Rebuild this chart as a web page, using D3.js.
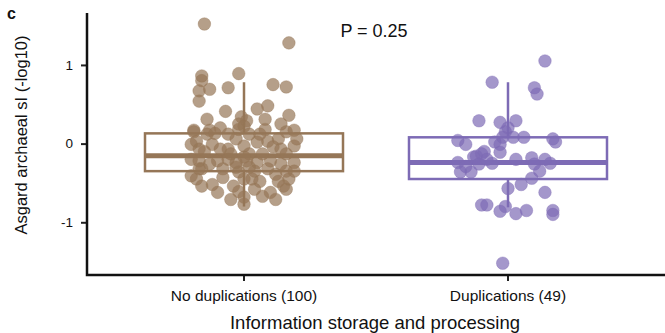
<!DOCTYPE html>
<html>
<head>
<meta charset="utf-8">
<script src="https://cdn.jsdelivr.net/npm/d3@7"></script>
<style>
  body { margin: 0; background: #fff; }
  svg text { font-family: "Liberation Sans", Arial, Helvetica, sans-serif; }
</style>
</head>
<body>
<div id="chart"></div>
<script>
// groups on the x axis
const groups = ['No duplications (100)', 'Duplications (49)'];
const colors = ['#957657', '#7d6bb5'];
const yTicks = [-1, 0, 1];

// box stats per group (-log10 sI)
const q1 = [-0.35, -0.45];
const median = [-0.155, -0.24];
const q3 = [0.13, 0.08];
const whiskerLow = [-0.80, -0.81];
const whiskerHigh = [0.78, 0.78];

// points: [jitter (fraction of band step), value]
const noDupPoints = [
  [-0.15, 1.52], [0.17, 1.28], [-0.16, 0.86], [-0.16, 0.80], [-0.17, 0.67],
  [-0.13, 0.69], [-0.17, 0.54], [-0.06, 0.71], [-0.02, 0.89], [0.11, 0.75],
  [0.16, 0.72], [0.05, 0.44], [0.09, 0.48], [0.17, 0.36], [-0.01, 0.34],
  [0.01, 0.29], [-0.02, 0.25], [0.00, 0.22], [-0.19, 0.17], [-0.13, 0.17],
  [-0.09, 0.20], [-0.02, 0.18], [-0.19, 0.15], [-0.14, 0.12], [-0.11, 0.13],
  [0.16, 0.15], [0.19, 0.17], [-0.06, -0.07], [0.00, -0.03], [0.05, 0.02],
  [0.09, 0.03], [0.13, 0.06], [0.19, -0.03], [-0.18, 0.03], [-0.15, -0.10],
  [-0.20, -0.20], [-0.17, -0.22], [-0.10, -0.22], [-0.06, -0.20], [-0.03, -0.24],
  [0.01, -0.22], [0.05, -0.24], [0.10, -0.22], [0.14, -0.26], [0.19, -0.24],
  [-0.08, -0.32], [-0.02, -0.36], [0.04, -0.35], [0.09, -0.32], [0.16, -0.35],
  [0.19, -0.35], [-0.20, -0.41], [-0.18, -0.45], [-0.16, -0.54], [-0.08, -0.43],
  [-0.04, -0.54], [0.00, -0.45], [0.06, -0.48], [0.13, -0.48], [0.15, -0.54],
  [0.16, -0.58], [-0.05, -0.71], [0.00, -0.68], [0.07, -0.67], [0.10, -0.62],
  [0.12, -0.71], [0.00, -0.77], [-0.10, -0.62], [-0.13, -0.26], [0.02, -0.13],
  [0.07, -0.13], [0.16, -0.13], [-0.17, -0.07], [-0.12, -0.01], [-0.03, 0.06],
  [0.02, 0.12], [0.08, 0.18], [0.14, 0.25], [0.11, -0.04], [-0.05, -0.13],
  [-0.09, -0.07], [-0.16, -0.32], [0.02, -0.30], [0.12, -0.39], [-0.12, -0.52],
  [0.04, -0.58], [-0.02, -0.61], [0.20, 0.06], [-0.20, -0.01], [0.17, -0.45],
  [0.06, 0.12], [-0.06, 0.12], [0.00, -0.17], [0.14, -0.07], [-0.14, 0.31],
  [-0.07, 0.41], [0.08, 0.31], [-0.17, -0.32], [0.03, -0.45], [-0.03, -0.30]
];
const dupPoints = [
  [0.14, 1.05], [-0.06, 0.78], [0.10, 0.71], [0.11, 0.63], [-0.11, 0.29],
  [-0.03, 0.27], [0.03, 0.29], [0.00, 0.20], [-0.01, 0.15], [-0.19, 0.04],
  [-0.16, -0.01], [-0.02, 0.08], [0.02, 0.08], [0.06, 0.08], [0.17, 0.06],
  [0.18, 0.02], [-0.03, -0.01], [-0.09, -0.10], [-0.12, -0.16], [-0.19, -0.24],
  [-0.18, -0.36], [-0.14, -0.36], [-0.13, -0.17], [-0.10, -0.13], [-0.11, -0.26],
  [-0.06, -0.25], [-0.03, -0.11], [0.09, -0.18], [0.10, -0.26], [0.12, -0.35],
  [0.16, -0.25], [0.09, -0.44], [0.05, -0.52], [0.00, -0.57], [0.14, -0.62],
  [-0.10, -0.78], [-0.08, -0.78], [-0.01, -0.80], [-0.03, -0.86], [0.03, -0.89],
  [0.07, -0.85], [0.17, -0.85], [0.17, -0.90], [-0.02, -1.52], [-0.08, -0.20],
  [-0.16, -0.29], [0.14, -0.20], [-0.05, 0.02], [0.03, -0.20]
];
const pointSets = [noDupPoints, dupPoints];

const W = 665, H = 333;
const svg = d3.select('#chart').append('svg')
  .attr('width', W)
  .attr('height', H);

const x = d3.scaleBand()
  .domain(groups)
  .range([112, 640])
  .padding(0);

const y = d3.scaleLinear()
  .domain([-1.67, 1.66])
  .range([275, 13]);

const boxW = x.bandwidth() * 0.75;
const center = i => x(groups[i]) + x.bandwidth() / 2;

// boxes
groups.forEach((g, i) => {
  const cx = center(i);
  const c = colors[i];
  const gBox = svg.append('g');
  gBox.append('line')
    .attr('x1', cx).attr('x2', cx)
    .attr('y1', y(q3[i])).attr('y2', y(whiskerHigh[i]))
    .attr('stroke', c).attr('stroke-width', 2.5);
  gBox.append('line')
    .attr('x1', cx).attr('x2', cx)
    .attr('y1', y(q1[i])).attr('y2', y(whiskerLow[i]))
    .attr('stroke', c).attr('stroke-width', 2.5);
  gBox.append('rect')
    .attr('x', cx - boxW / 2)
    .attr('y', y(q3[i]))
    .attr('width', boxW)
    .attr('height', y(q1[i]) - y(q3[i]))
    .attr('fill', 'none')
    .attr('stroke', c)
    .attr('stroke-width', 2.5);
  gBox.append('line')
    .attr('x1', cx - boxW / 2).attr('x2', cx + boxW / 2)
    .attr('y1', y(median[i])).attr('y2', y(median[i]))
    .attr('stroke', c).attr('stroke-width', 5);
});

// jittered points
pointSets.forEach((pts, i) => {
  svg.append('g').selectAll('circle')
    .data(pts)
    .enter().append('circle')
    .attr('cx', d => center(i) + d[0] * x.step())
    .attr('cy', d => y(d[1]))
    .attr('r', 6.3)
    .attr('fill', colors[i])
    .attr('fill-opacity', 0.7)
    .attr('stroke', colors[i])
    .attr('stroke-opacity', 0.35)
    .attr('stroke-width', 1);
});

// y axis
const yAxis = svg.append('g')
  .attr('transform', 'translate(87,0)')
  .call(d3.axisLeft(y).tickValues(yTicks).tickFormat(d => String(d))
    .tickSize(6).tickPadding(8).tickSizeOuter(0));
yAxis.select('.domain').remove();
yAxis.selectAll('line').attr('stroke', '#222').attr('stroke-width', 2);
yAxis.selectAll('text').style('font-size', '13.5px').attr('fill', '#111');

// x axis
const xAxis = svg.append('g')
  .attr('transform', 'translate(0,275)')
  .call(d3.axisBottom(x).tickSize(6).tickPadding(9).tickSizeOuter(0));
xAxis.select('.domain').remove();
xAxis.selectAll('line').attr('stroke', '#222').attr('stroke-width', 2);
xAxis.selectAll('text').style('font-size', '15.5px').attr('fill', '#111');

// axis lines
svg.append('path')
  .attr('d', 'M87,13V275H665')
  .attr('fill', 'none')
  .attr('stroke', '#111')
  .attr('stroke-width', 2.5);

// labels
svg.append('text')
  .attr('transform', 'translate(27,135) rotate(-90)')
  .attr('text-anchor', 'middle')
  .style('font-size', '16.5px')
  .attr('fill', '#111')
  .text('Asgard archaeal sI (-log10)');

svg.append('text')
  .attr('x', 375)
  .attr('y', 329)
  .attr('text-anchor', 'middle')
  .style('font-size', '18.5px')
  .attr('fill', '#111')
  .text('Information storage and processing');

svg.append('text')
  .attr('x', 374)
  .attr('y', 37)
  .attr('text-anchor', 'middle')
  .style('font-size', '18px')
  .attr('fill', '#111')
  .text('P = 0.25');

svg.append('text')
  .attr('x', 7)
  .attr('y', 19)
  .style('font-size', '16px')
  .style('font-weight', 'bold')
  .attr('fill', '#111')
  .text('c');
</script>
</body>
</html>
